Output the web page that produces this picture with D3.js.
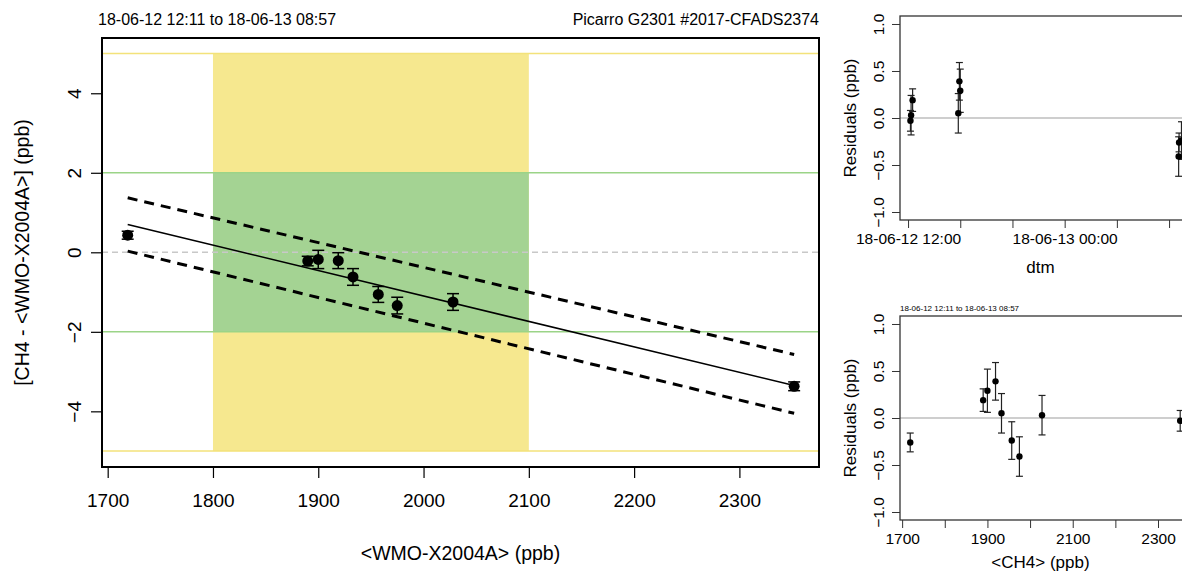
<!DOCTYPE html>
<html>
<head>
<meta charset="utf-8">
<script src="https://cdn.jsdelivr.net/npm/d3@7"></script>
<style>
  body { margin: 0; background: #fff; }
  svg { display: block; font-family: "Liberation Sans", Arial, sans-serif; }
</style>
</head>
<body>
<svg id="chart" width="1182" height="574"></svg>
<script>
// values
const refCH4 = [1719, 1890, 1900, 1919, 1933, 1957, 1975, 2028, 2352];
const diffCH4 = [0.43, -0.22, -0.18, -0.21, -0.62, -1.06, -1.34, -1.25, -3.37];
const errCH4 = [0.1, 0.12, 0.23, 0.2, 0.21, 0.2, 0.21, 0.21, 0.11];
const residuals = [-0.26, 0.19, 0.29, 0.39, 0.05, -0.24, -0.41, 0.03, -0.03];
const measTimes = [
  "2018-06-13 08:46", "2018-06-12 12:21", "2018-06-12 16:00",
  "2018-06-12 15:56", "2018-06-12 15:51", "2018-06-13 08:57",
  "2018-06-13 08:44", "2018-06-12 12:14", "2018-06-12 12:11"
];

const fitX = [1719, 2352];
const fitY = [0.7, -3.35];
const upperY = [1.37, -2.57];
const lowerY = [0.03, -4.05];

const bandX = [1800, 2100];
const outerLim = 5;
const innerLim = 2;

const xTicks = [1700, 1800, 1900, 2000, 2100, 2200, 2300];
const yTicks = [-4, -2, 0, 2, 4];
const resTicks = [-1, -0.5, 0, 0.5, 1];
const resXLabels = [1700, 1900, 2100, 2300];

const titleLeft = "18-06-12 12:11 to 18-06-13 08:57";
const titleRight = "Picarro G2301 #2017-CFADS2374";

const yellow = "#f6e88f";
const green = "#a4d393";

const svg = d3.select("#chart");
const parseTime = d3.utcParse("%Y-%m-%d %H:%M");

const points = refCH4.map((x, i) => ({
  x: x,
  y: diffCH4[i],
  err: errCH4[i],
  res: residuals[i],
  t: parseTime(measTimes[i])
}));

// ---------- main panel ----------
const main = { left: 102, right: 819, top: 38, bottom: 467 };
const x = d3.scaleLinear().domain([1694.6, 2375.6]).range([main.left, main.right]);
const y = d3.scaleLinear().domain([-5.4, 5.39]).range([main.bottom, main.top]);

const g = svg.append("g");

g.append("rect")
  .attr("x", x(bandX[0]))
  .attr("y", y(outerLim))
  .attr("width", x(bandX[1]) - x(bandX[0]))
  .attr("height", y(-outerLim) - y(outerLim))
  .attr("fill", yellow);

g.append("rect")
  .attr("x", x(bandX[0]))
  .attr("y", y(innerLim))
  .attr("width", x(bandX[1]) - x(bandX[0]))
  .attr("height", y(-innerLim) - y(innerLim))
  .attr("fill", green);

const hLine = (v, color, dash) => {
  g.append("line")
    .attr("x1", main.left).attr("x2", main.right)
    .attr("y1", y(v)).attr("y2", y(v))
    .attr("stroke", color)
    .attr("stroke-width", 1.5)
    .attr("stroke-dasharray", dash || null);
};
hLine(outerLim, "#f3e27a");
hLine(-outerLim, "#f3e27a");
hLine(innerLim, "#9bd487");
hLine(-innerLim, "#9bd487");
hLine(0, "#c8c8c8", "6,4");

// fit and confidence lines
const drawFitLine = (ys, width, dash) => {
  g.append("line")
    .attr("x1", x(fitX[0])).attr("y1", y(ys[0]))
    .attr("x2", x(fitX[1])).attr("y2", y(ys[1]))
    .attr("stroke", "#000")
    .attr("stroke-width", width)
    .attr("stroke-dasharray", dash || null);
};
drawFitLine(fitY, 1.6);
drawFitLine(upperY, 3, "10,7");
drawFitLine(lowerY, 3, "10,7");

// error bars + points
const errG = g.append("g").attr("stroke", "#000").attr("stroke-width", 1.5);
points.forEach((d) => {
  const cx = x(d.x);
  errG.append("line").attr("x1", cx).attr("x2", cx)
    .attr("y1", y(d.y - d.err)).attr("y2", y(d.y + d.err));
  [d.y - d.err, d.y + d.err].forEach((v) => {
    errG.append("line").attr("x1", cx - 6).attr("x2", cx + 6)
      .attr("y1", y(v)).attr("y2", y(v));
  });
});
g.selectAll(".pt")
  .data(points)
  .enter()
  .append("circle")
  .attr("cx", (d) => x(d.x))
  .attr("cy", (d) => y(d.y))
  .attr("r", 5.5)
  .attr("fill", "#000");

g.append("rect")
  .attr("x", main.left).attr("y", main.top)
  .attr("width", main.right - main.left)
  .attr("height", main.bottom - main.top)
  .attr("fill", "none")
  .attr("stroke", "#000")
  .attr("stroke-width", 2);

const xAxis = svg.append("g")
  .attr("transform", `translate(0,${main.bottom})`)
  .call(d3.axisBottom(x).tickValues(xTicks).tickSize(11).tickPadding(16).tickFormat(d3.format("d")));
const yAxis = svg.append("g")
  .attr("transform", `translate(${main.left},0)`)
  .call(d3.axisLeft(y).tickValues(yTicks).tickSize(11).tickFormat(d3.format("d")));

[xAxis, yAxis].forEach((a) => {
  a.select(".domain").remove();
  a.selectAll(".tick line").attr("stroke", "#000").attr("stroke-width", 1.2);
  a.selectAll(".tick text").attr("fill", "#000").style("font-size", "19px");
});
yAxis.selectAll(".tick text")
  .attr("text-anchor", "middle")
  .attr("transform", "translate(-28,0) rotate(-90)")
  .attr("x", 0)
  .attr("dy", "0.35em");

svg.append("text")
  .attr("x", (main.left + main.right) / 2)
  .attr("y", 560)
  .attr("text-anchor", "middle")
  .style("font-size", "19.5px")
  .text("<WMO-X2004A> (ppb)");

svg.append("text")
  .attr("transform", `translate(29,${(main.top + main.bottom) / 2}) rotate(-90)`)
  .attr("text-anchor", "middle")
  .style("font-size", "19.5px")
  .text("[CH4 - <WMO-X2004A>] (ppb)");

svg.append("text")
  .attr("x", main.left - 4).attr("y", 25)
  .style("font-size", "16px")
  .text(titleLeft);
svg.append("text")
  .attr("x", main.right).attr("y", 25)
  .attr("text-anchor", "end")
  .style("font-size", "16px")
  .text(titleRight);

// ---------- residual panels ----------
const drawResiduals = (top, xs, xval, axisFn, xlabel, labelGap) => {
  const box = { left: 900, right: 1193, top: top, bottom: top + 204 };
  const ry = d3.scaleLinear().domain([-1.085, 1.085]).range([box.bottom, box.top]);
  const p = svg.append("g");

  p.append("line")
    .attr("x1", box.left).attr("x2", box.right)
    .attr("y1", ry(0)).attr("y2", ry(0))
    .attr("stroke", "#bebebe").attr("stroke-width", 1.3);

  const eg = p.append("g").attr("stroke", "#222").attr("stroke-width", 1.2);
  points.forEach((d) => {
    const cx = xs(xval(d));
    eg.append("line").attr("x1", cx).attr("x2", cx)
      .attr("y1", ry(d.res - d.err)).attr("y2", ry(d.res + d.err));
    [d.res - d.err, d.res + d.err].forEach((v) => {
      eg.append("line").attr("x1", cx - 3.5).attr("x2", cx + 3.5)
        .attr("y1", ry(v)).attr("y2", ry(v));
    });
  });
  p.selectAll(".rp")
    .data(points)
    .enter()
    .append("circle")
    .attr("cx", (d) => xs(xval(d)))
    .attr("cy", (d) => ry(d.res))
    .attr("r", 3.2)
    .attr("fill", "#000");

  p.append("rect")
    .attr("x", box.left).attr("y", box.top)
    .attr("width", box.right - box.left)
    .attr("height", box.bottom - box.top)
    .attr("fill", "none")
    .attr("stroke", "#333")
    .attr("stroke-width", 1.3);

  const ya = svg.append("g")
    .attr("transform", `translate(${box.left},0)`)
    .call(d3.axisLeft(ry).tickValues(resTicks).tickSize(8).tickFormat(d3.format(".1f")));
  ya.select(".domain").remove();
  ya.selectAll(".tick line").attr("stroke", "#333");
  ya.selectAll(".tick text")
    .attr("fill", "#000")
    .style("font-size", "15.5px")
    .attr("text-anchor", "middle")
    .attr("x", 0)
    .attr("dy", "0.35em")
    .attr("transform", "translate(-21,0) rotate(-90)");

  const xa = svg.append("g")
    .attr("transform", `translate(0,${box.bottom})`)
    .call(axisFn);
  xa.select(".domain").remove();
  xa.selectAll(".tick line").attr("stroke", "#333");
  xa.selectAll(".tick text").attr("fill", "#000").style("font-size", "15.5px");

  svg.append("text")
    .attr("transform", `translate(856,${(box.top + box.bottom) / 2}) rotate(-90)`)
    .attr("text-anchor", "middle")
    .style("font-size", "17px")
    .text("Residuals (ppb)");

  svg.append("text")
    .attr("x", (box.left + box.right) / 2 - 6)
    .attr("y", box.bottom + labelGap)
    .attr("text-anchor", "middle")
    .style("font-size", "17px")
    .text(xlabel);
  return box;
};

// time panel
const tStart = parseTime("2018-06-12 11:23");
const tEnd = parseTime("2018-06-13 09:50");
const xt = d3.scaleUtc().domain([tStart, tEnd]).range([900, 1193]);
const timeTicks = d3.utcHour.every(4).range(parseTime("2018-06-12 12:00"), tEnd);
const fmtTime = d3.utcFormat("%y-%m-%d %H:%M");
drawResiduals(
  16, xt, (d) => d.t,
  d3.axisBottom(xt).tickValues(timeTicks).tickSize(8).tickPadding(5)
    .tickFormat((t) => (t.getUTCHours() % 12 === 0 ? fmtTime(t) : "")),
  "dtm", 53
);

// concentration panel
const xc = d3.scaleLinear().domain([1695, 2375]).range([900, 1190]);
const cBox = drawResiduals(
  316, xc, (d) => d.x,
  d3.axisBottom(xc).tickValues(xTicks).tickSize(8).tickPadding(5)
    .tickFormat((v) => (resXLabels.includes(v) ? v : "")),
  "<CH4> (ppb)", 48
);

svg.append("text")
  .attr("x", cBox.left)
  .attr("y", cBox.top - 5)
  .style("font-size", "8px")
  .text(titleLeft);
</script>
</body>
</html>
